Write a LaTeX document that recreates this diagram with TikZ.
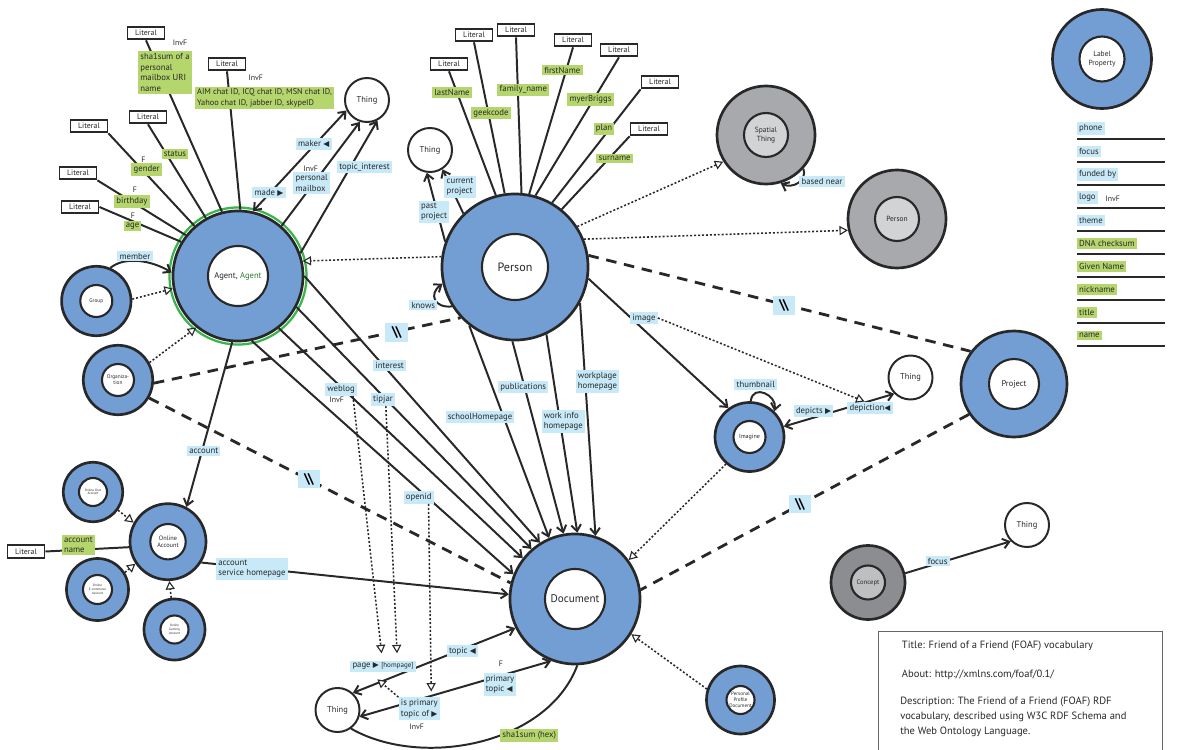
\documentclass[tikz,border=0pt]{standalone}
\usepackage{fontspec}
\setmainfont{PT Sans}
\newfontfamily\symfont{DejaVu Sans}
\usetikzlibrary{arrows.meta}

\definecolor{ringblue}{RGB}{114,158,211}
\definecolor{ringgray}{RGB}{167,169,172}
\definecolor{coregray}{RGB}{209,211,212}
\definecolor{darkring}{RGB}{140,141,144}
\definecolor{darkcore}{RGB}{190,191,193}
\definecolor{tagblue}{RGB}{199,233,248}
\definecolor{taggreen}{RGB}{181,214,108}
\definecolor{agentgreen}{RGB}{57,181,74}
\definecolor{agenttext}{RGB}{46,125,50}
\definecolor{ink}{RGB}{40,40,40}

\newcommand\rtri{{\symfont\fontsize{5.5}{5.5}\selectfont ▶}}
\newcommand\ltri{{\symfont\fontsize{5.5}{5.5}\selectfont ◀}}
% class ring: name, position, outer r, inner r, ring fill, core fill, font size, text
\newcommand\ringnode[8]{%
  \node[ring, fill=#5, minimum size=#3*0.05cm] (#1) at (#2) {};
  \node[core, fill=#6, minimum size=#4*0.05cm,
        font=\fontsize{#7}{#7}\selectfont\setlength\baselineskip{1.15\dimexpr#7pt\relax}] (#1-in) at (#2) {#8};}

\tikzset{
  ring/.style={circle, draw=ink, line width=1.9pt, inner sep=0pt},
  core/.style={circle, draw=ink, line width=1.5pt, inner sep=0pt, align=center, text=ink},
  thing/.style={circle, draw=ink, line width=1.4pt, fill=white, minimum size=1.1cm, inner sep=0pt,
    font=\fontsize{6}{7}\selectfont, text=ink},
  literal/.style={draw=ink, line width=1.3pt, fill=white, minimum width=0.925cm, minimum height=0.32cm,
    inner sep=0pt, font=\fontsize{5.6}{6}\selectfont, text=ink},
  tag/.style={fill=tagblue, inner sep=1.6pt, align=left, text=ink, font=\fontsize{6.2}{7.4}\selectfont},
  gtag/.style={tag, fill=taggreen},
  flag/.style={inner sep=0pt, text=ink, font=\fontsize{5.6}{6}\selectfont},
  slash/.style={fill=tagblue, minimum width=16pt, minimum height=13pt, inner sep=0pt,
    font=\fontsize{10}{10}\bfseries\selectfont},
  conn/.style={draw=ink, line width=1.4pt},
  sub/.style={draw=ink, line width=1.1pt, dash pattern=on 1.4pt off 1.4pt,
    -{Triangle[length=6pt,width=6.5pt,fill=white,line width=0.8pt]}},
  disj/.style={draw=ink, line width=2pt, dash pattern=on 7.5pt off 5.5pt},
  keybar/.style={draw=ink, line width=2pt},
}

\begin{document}
\begin{tikzpicture}[x=0.025cm, y=-0.025cm, >={Straight Barb[length=4.5pt,width=7pt]}]
\fill[white] (0,0) rectangle (1182,749);
\useasboundingbox (0,0) rectangle (1182,749);

% classes
\node[circle, draw=agentgreen, line width=1.6pt, minimum size=68.5*0.05cm, inner sep=0pt] (agent-halo) at (238,276) {};
\ringnode{agent}{238,276}{65}{30}{ringblue}{white}{6.1}{Agent, \textcolor{agenttext}{Agent}}
\ringnode{person}{515,267}{73}{33}{ringblue}{white}{8.6}{Person}
\ringnode{doc}{575,599}{65}{30}{ringblue}{white}{7.9}{Document}
\ringnode{spatial}{766,135}{49}{22}{ringgray}{coregray}{5.3}{Spatial\\Thing}
\ringnode{gperson}{897,219}{49}{22}{ringgray}{coregray}{5.3}{Person}
\ringnode{keyring}{1102,59}{49.5}{22.5}{ringblue}{white}{5.3}{Label\\Property}
\ringnode{project}{1014,384}{53}{25}{ringblue}{white}{6}{Project}
\ringnode{image}{749.5,437}{34.5}{16}{ringblue}{white}{4.3}{Imagine}
\ringnode{concept}{868,582.5}{37}{17}{darkring}{darkcore}{4.7}{Concept}
\ringnode{ppd}{740.5,700}{34}{14}{ringblue}{white}{3.6}{Personal\\Profile\\Document}
\ringnode{group}{96.3,301}{34.7}{16}{ringblue}{white}{3.8}{Group}
\ringnode{org}{118,380}{34.7}{16}{ringblue}{white}{3.8}{Organiza-\\tion}
\ringnode{oacc}{168,541.7}{38}{17.7}{ringblue}{white}{4.5}{Online\\Account}
\ringnode{chat}{93,492}{29.7}{14}{ringblue}{white}{2.3}{Online Chat\\Account}
\ringnode{ecom}{97.5,589.5}{31}{14.5}{ringblue}{white}{2.3}{Online\\E-commerce\\Account}
\ringnode{game}{174.5,629.5}{30.5}{14}{ringblue}{white}{2.3}{Online\\Gaming\\Account}

\node[thing] (thingA) at (367,100) {Thing};
\node[thing] (thingB) at (430,150) {Thing};
\node[thing] (thingC) at (910.5,377.5) {Thing};
\node[thing] (thingD) at (1027,525) {Thing};
\node[thing] (thingE) at (337.5,710) {Thing};

% literals
\node[literal] (lit1) at (146,33) {Literal};
\node[literal] (lit2) at (227,64) {Literal};
\node[literal] (lit3) at (148,117) {Literal};
\node[literal] (lit4) at (89,126) {Literal};
\node[literal] (lit5) at (78,173) {Literal};
\node[literal] (lit6) at (80,207) {Literal};
\node[literal] (lit7) at (449,64) {Literal};
\node[literal] (lit8) at (474,35) {Literal};
\node[literal] (lit9) at (516,30) {Literal};
\node[literal] (lit10) at (573,40) {Literal};
\node[literal] (lit11) at (619,50) {Literal};
\node[literal] (lit12) at (660,82) {Literal};
\node[literal] (lit13) at (649,129) {Literal};
\node[literal] (lit14) at (26,551.5) {Literal};

% datatype properties
\begin{scope}[conn]
\draw (lit1.south) -- (agent.104);
\draw (lit2.south) -- (agent.88);
\draw (lit3.south) -- (agent.119);
\draw (lit4.south east) -- (agent.131);
\draw (lit5.south east) -- (agent.142);
\draw (lit6.east) -- (agent.149);
\draw (lit7.south) -- (person.105);
\draw (lit8.south) -- (person.98);
\draw (lit9.south) -- (person.85);
\draw (lit10.south) -- (person.79);
\draw (lit11.south) -- (person.74);
\draw (lit12.south west) -- (person.60);
\draw (lit13.south west) -- (person.51);
\draw (lit14.east) -- (oacc.-172);
\draw (doc.-88) .. controls +(-30,80) and +(70,40) .. (thingE.-54);
\end{scope}

% object properties
\begin{scope}[conn,->]
\draw[<->] (agent.77) -- (thingA.-153);
\draw (agent.49) -- (thingA.-108);
\draw (agent.20) -- (thingA.-63);
\draw (person.160) -- (thingB.-98);
\draw (person.134) -- (thingB.-57);
\draw (spatial.-42) .. controls +(4,12) and +(12,6) .. (spatial.-73);
\draw (group.67) .. controls +(15,-12) and +(-20,-12) .. (agent.177);
\draw (agent.-95) -- (oacc.62);
\draw (oacc.-32) -- (doc.176);
\draw (agent.0) -- (doc.122);
\draw (agent.-28) -- (doc.131);
\draw (agent.-52) -- (doc.142);
\draw (agent.-78) -- (doc.158);
\draw (person.-128) -- (doc.113);
\draw (person.-92) -- (doc.100);
\draw (person.-65) -- (doc.88);
\draw (person.-29) -- (doc.72);
\draw (person.-148) .. controls +(-18,2) and +(-14,10) .. (person.-167);
\draw (person.-9) -- (image.126);
\draw (image.88) .. controls +(2,-18) and +(3,-16) .. (image.46);
\draw[<->] (image.17) -- (thingC.-135);
\draw (concept.14) -- (thingD.-135);
\draw[<->] (doc.-154) -- (thingE.48);
\draw[<->] (doc.-111) -- (thingE.-17);
\end{scope}

% subclasses
\draw[sub] (person.172) -- (agent.13);
\draw[sub] (person.33) -- (spatial.-148);
\draw[sub] (person.22) -- (gperson.-167);
\draw[sub] (group.3) -- (agent.-169);
\draw[sub] (org.29) -- (agent.-129);
\draw[sub] (chat.-36) -- (oacc.151);
\draw[sub] (ecom.32) -- (oacc.-146);
\draw[sub] (game.96) -- (oacc.-88);
\draw[sub] (image.-131) -- (doc.36);
\draw[sub] (ppd.162) -- (doc.-32);

% disjoint
\draw[disj] (person.9) -- (project.143);
\draw[disj] (project.-146) -- (doc.8);
\draw[disj] (org.-5) -- (person.-137);
\draw[disj] (org.-30) -- (doc.166);

% labels
\node[gtag] (mboxsha) at (165,72.5) {sha1sum of a\\personal\\mailbox URI\\name};
\node[gtag, font=\fontsize{5.9}{7.4}\selectfont] (chatid) at (264.5,98) {AIM chat ID, ICQ chat ID, MSN chat ID,\\Yahoo chat ID, jabber ID, skypeID};
\node[gtag] (status) at (175,154) {status};
\node[gtag] (gender) at (146.7,169.7) {gender};
\node[gtag] (birthday) at (132,201.5) {birthday};
\node[gtag] (age) at (132.5,226) {age};
\node[gtag] (lastname) at (452,92.5) {lastName};
\node[gtag] (geekcode) at (491,113) {geekcode};
\node[gtag] (familyname) at (523.3,89.8) {family\_name};
\node[gtag] (firstname) at (562.3,70) {firstName};
\node[gtag] (myers) at (590.5,99.7) {myerBriggs};
\node[gtag] (plan) at (604,128.8) {plan};
\node[gtag] (surname) at (614.7,158.5) {surname};
\node[gtag] (accname) at (78.5,545) {account\\name};
\node[gtag] (sha1hex) at (529.3,735.3) {sha1sum (hex)};

\node[flag] (invf1) at (180,42.7) {InvF};
\node[flag] (invf2) at (255.7,78) {InvF};
\node[flag] (fgender) at (143.3,160) {F};
\node[flag] (fbirth) at (135,190) {F};
\node[flag] (fage) at (133,216) {F};
\node[flag] (invf3) at (310.7,168.3) {InvF};
\node[flag] (invf4) at (336.7,400) {InvF};
\node[flag] (fprim) at (501,663.3) {F};
\node[flag] (invf5) at (416.7,726.7) {InvF};

\node[tag] (maker) at (313.7,143.8) {maker \ltri};
\node[tag] (made) at (269,192.5) {made \rtri};
\node[tag] (mailbox) at (311.7,183) {personal\\mailbox};
\node[tag] (topicint) at (364.5,167) {topic\_interest};
\node[tag] (pastproj) at (434,212) {past\\project};
\node[tag] (curproj) at (460,187) {current\\project};
\node[tag] (basednear) at (822,181.5) {based near};
\node[tag] (member) at (135,256) {member};
\node[tag] (knows) at (423.3,305) {knows};
\node[tag] (imagetag) at (644,318) {image};
\node[tag] (interest) at (389.7,365.5) {interest};
\node[tag] (weblog) at (341,389.7) {weblog};
\node[tag] (tipjar) at (383,399.7) {tipjar};
\node[tag] (openid) at (418.7,497.5) {openid};
\node[tag] (account) at (203.8,451) {account};
\node[tag] (school) at (480,417.2) {schoolHomepage};
\node[tag] (pubs) at (523.3,387.2) {publications};
\node[tag] (workinfo) at (563.3,421.3) {work info\\homepage};
\node[tag] (workplace) at (597.5,381.3) {workplage\\homepage};
\node[tag] (thumb) at (755.7,384.5) {thumbnail};
\node[tag] (depicts) at (813.5,410.8) {depicts \rtri};
\node[tag] (depiction) at (870,408) {depiction\ltri};
\node[tag] (focus) at (937.7,561) {focus};
\node[tag] (servicehp) at (252,568.8) {account\\service homepage};
\node[tag] (page) at (383,666.3) {page \rtri\ {\fontsize{5}{6}\selectfont[hompage]}};
\node[tag] (topic) at (462.5,651.2) {topic \ltri};
\node[tag] (primtopic) at (500,684.5) {primary\\topic \ltri};
\node[tag] (isprim) at (419.3,708.8) {is primary\\topic of \rtri};

\node[slash] (slash1) at (784,305.5) {\textbackslash\kern-1.5pt\textbackslash};
\node[slash] (slash2) at (800,504) {\textbackslash\kern-1.5pt\textbackslash};
\node[slash] (slash3) at (396.7,332.5) {\textbackslash\kern-1.5pt\textbackslash};
\node[slash] (slash4) at (309,479) {\textbackslash\kern-1.5pt\textbackslash};

% subproperties
\draw[sub] (imagetag.east) -- (depiction.130);
\draw[sub] ([xshift=-3pt]weblog.south east) -- ([xshift=-1pt,yshift=5pt]page.north);
\draw[sub] ([xshift=2pt]tipjar.south) -- ([xshift=10pt,yshift=5pt]page.north);
\draw[sub] ([xshift=7pt]openid.south) -- ([xshift=8.5pt,yshift=4pt]isprim.north);
\draw[sub] (isprim.north west) -- ([xshift=-4pt,yshift=-5pt]page.south);

% key
\node[flag] (invfkey) at (1112.7,198.3) {InvF};
\foreach \t/\c [count=\i] in {phone/tagblue, focus/tagblue, funded by/tagblue, logo/tagblue, theme/tagblue,
    DNA checksum/taggreen, Given Name/taggreen, nickname/taggreen, title/taggreen, name/taggreen} {
  \node[tag, fill=\c, anchor=west] (key\i) at (1076.5,105.5+23*\i) {\t};
  \draw[keybar] (1077,116+23*\i) -- (1165,116+23*\i);
}

% about box
\draw[black!60, line width=0.6pt] (878,631) rectangle (1162,760);
\node[anchor=west, text=ink, font=\fontsize{7.5}{10.6}\selectfont] (title) at (897,646) {Title: Friend of a Friend (FOAF) vocabulary};
\node[anchor=west, text=ink, font=\fontsize{7.5}{10.6}\selectfont] (about) at (897,675) {About: http://xmlns.com/foaf/0.1/};
\node[anchor=north west, align=left, inner sep=0pt, text=ink, font=\fontsize{7.5}{10.6}\selectfont] (descr) at (900,697)
  {Description: The Friend of a Friend (FOAF) RDF\\vocabulary, described using W3C RDF Schema and\\the Web Ontology Language.};
\end{tikzpicture}
\end{document}
